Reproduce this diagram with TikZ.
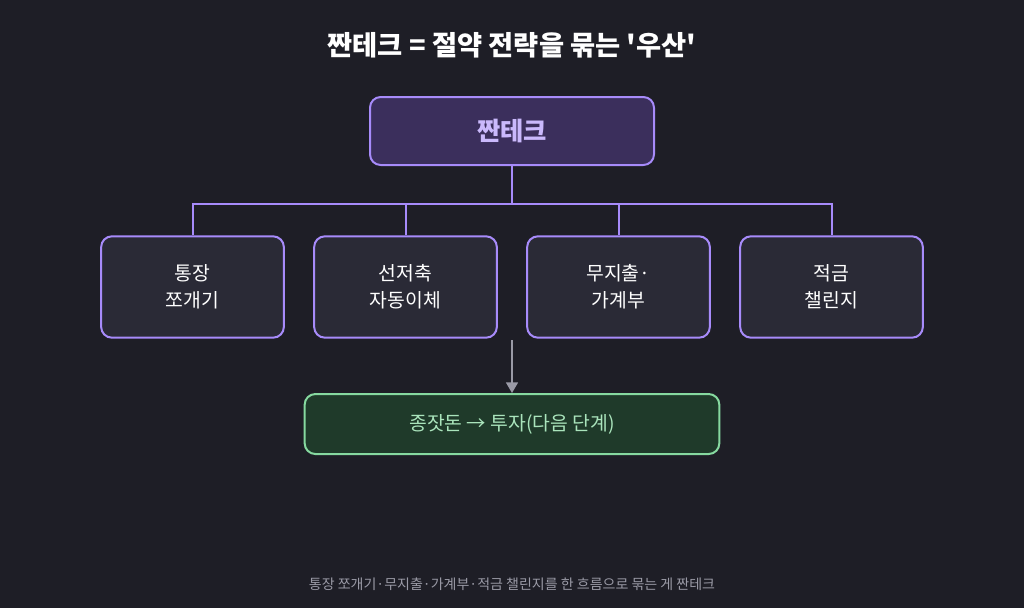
\documentclass[tikz,border=0pt]{standalone}
\usepackage{fontspec}
\setmainfont{Noto Sans CJK KR}
\newfontfamily\plainkr{Noto Sans CJK KR}
\usetikzlibrary{positioning,arrows.meta}
\definecolor{bgc}{HTML}{1E1E26}
\definecolor{purp}{HTML}{A78BFA}
\definecolor{topfill}{HTML}{3B2F5C}
\definecolor{boxfill}{HTML}{2A2A36}
\definecolor{grn}{HTML}{86D9A0}
\definecolor{grnfill}{HTML}{1F3A2A}
\definecolor{linec}{HTML}{9A9AA6}
\tikzset{
 leafbox/.style={draw=purp, line width=1.5pt, fill=boxfill, rounded corners=8pt,
   minimum width=137pt, minimum height=76pt, text=white, font=\fontsize{14.5}{20}\selectfont, align=center},
 link/.style={purp, line width=1.5pt}
}
\begin{document}
\begin{tikzpicture}[x=0.75pt,y=-0.75pt]
 \fill[bgc] (0,0) rectangle (1024,608);
 \useasboundingbox (0,0) rectangle (1024,608);
 \node[text=white, font=\plainkr\fontsize{20.5}{24}\selectfont\bfseries] (title) at (512,45) {짠테크 = 절약 전략을 묶는 '우산'};
 \node[draw=purp, line width=1.5pt, fill=topfill, rounded corners=8pt, minimum width=213pt, minimum height=51pt,
   text=purp!60!white, font=\fontsize{19}{22}\selectfont\bfseries] (root) at (512,131) {짠테크};
 \node[leafbox] (b1) at (192.5,287) {통장\\쪼개기};
 \node[leafbox] (b2) at (405.5,287) {선저축\\자동이체};
 \node[leafbox] (b3) at (618.5,287) {무지출·\\가계부};
 \node[leafbox] (b4) at (831.5,287) {적금\\챌린지};
 \coordinate (hub) at (512,204);
 \draw[link] (root.south) -- (hub);
 \draw[link] (b1.north) |- (hub) -| (b4.north);
 \draw[link] (b2.north) -- (b2.north |- hub);
 \draw[link] (b3.north) -- (b3.north |- hub);
 \node[draw=grn, line width=1.5pt, fill=grnfill, rounded corners=8pt, minimum width=311pt, minimum height=45pt,
   text=grn!70!white, font=\fontsize{14.5}{18}\selectfont] (seed) at (512,424) {종잣돈 → 투자(다음 단계)};
 \coordinate (arrtop) at (512,340);
 \draw[linec, line width=1.2pt, -{Triangle[length=8pt,width=9pt]}] (arrtop) -- (seed.north);
 \node[text=linec, font=\fontsize{10.5}{12}\selectfont] (foot) at (512,584) {통장 쪼개기·무지출·가계부·적금 챌린지를 한 흐름으로 묶는 게 짠테크};
\end{tikzpicture}
\end{document}
